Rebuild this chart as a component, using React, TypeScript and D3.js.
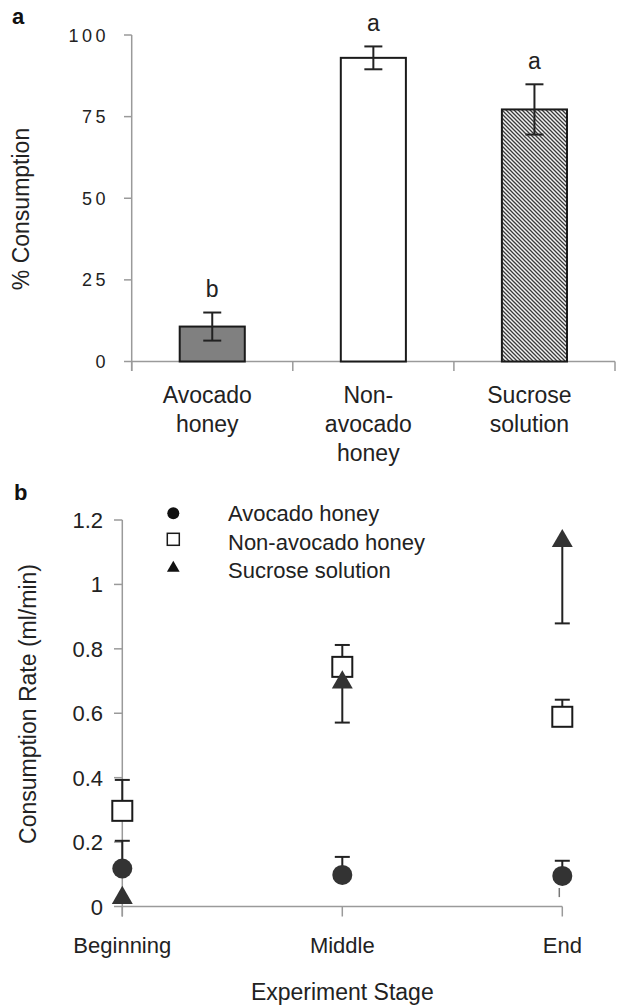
import React from "react";
import * as d3 from "d3";

// panel a: % consumption
const barCategories = [["Avocado", "honey"], ["Non-", "avocado", "honey"], ["Sucrose", "solution"]];
const barMeans = [10.7, 93.0, 77.2];
const barErrors = [4.3, 3.5, 7.7];
const barLetters = ["b", "a", "a"];
const barTicks = [0, 25, 50, 75, 100];

// panel b: consumption rate (ml/min)
const stages = ["Beginning", "Middle", "End"];
const avocadoRate = [0.118, 0.098, 0.095];
const avocadoErr = [0.086, 0.056, 0.047];
const nonAvocadoRate = [0.297, 0.744, 0.589];
const nonAvocadoErr = [0.096, 0.068, 0.053];
const sucroseRate = [0.03, 0.699, 1.138];
const sucroseErr = [0, 0.128, 0.259];
const rateTicks = [0, 0.2, 0.4, 0.6, 0.8, 1, 1.2];

const font = "'Liberation Sans', Arial, sans-serif";
const ink = "#222";
const axisGrey = "#9a9a9a";

const App = () => {
  // ---- scales panel a
  const yA = d3.scaleLinear().domain([0, 100]).range([361.5, 35]);
  const xA = d3.scaleBand<number>()
    .domain(d3.range(barCategories.length))
    .range([131.7, 615])
    .paddingInner(0.596)
    .paddingOuter(0.298);
  const stepA = xA.step();
  const boundaries = d3.range(barCategories.length + 1).map(i => 131.7 + stepA * i);
  const fills = ["#808080", "#ffffff", "url(#hatch)"];

  // ---- scales panel b
  const xB = d3.scalePoint<string>().domain(stages).range([122.3, 562.3]);
  const yB = d3.scaleLinear().domain([0, 1.2]).range([906.5, 520]);
  const tri = d3.symbol().type(d3.symbolTriangle).size(190)();
  const fmt = (v: number) => (v === 0 || v === 1 ? String(v) : d3.format(".1f")(v));

  const errBar = (x: number, y1: number, y2: number, cap: number, key: string) => (
    <g key={key} stroke={ink} strokeWidth={2}>
      <line x1={x} x2={x} y1={y1} y2={y2} />
      <line x1={x - cap / 2} x2={x + cap / 2} y1={y2} y2={y2} />
    </g>
  );

  return (
    <svg width={617} height={1006} style={{ position: "absolute", left: 0, top: 0, background: "#fff" }}
      fontFamily={font}>
      <defs>
        <pattern id="hatch" patternUnits="userSpaceOnUse" width={4} height={4}>
          <rect width={4} height={4} fill="#f2f2f2" />
          <path d="M-1,-1 L5,5 M-1,3 L1,5 M3,-1 L5,1" stroke="#3a3a3a" strokeWidth={1.3} />
        </pattern>
      </defs>

      {/* ================= panel a ================= */}
      <text x={12} y={24} fontSize={22} fontWeight="bold" fill="#111">a</text>

      {/* y axis */}
      <line x1={131.7} x2={131.7} y1={yA(100)} y2={371} stroke={axisGrey} strokeWidth={1.5} />
      {barTicks.map(t => (
        <g key={t}>
          <line x1={124} x2={131.7} y1={yA(t)} y2={yA(t)} stroke={axisGrey} strokeWidth={1.5} />
          <text x={109} y={yA(t) + 6.5} textAnchor="end" fontSize={18} letterSpacing={3.5} fill={ink}>{t}</text>
        </g>
      ))}
      <text transform={`translate(29,209) rotate(-90)`} textAnchor="middle" fontSize={23} fill={ink}>% Consumption</text>

      {/* x axis */}
      <line x1={131.7} x2={615} y1={yA(0)} y2={yA(0)} stroke={axisGrey} strokeWidth={1.5} />
      {boundaries.map((b, i) => (
        <line key={i} x1={b} x2={b} y1={yA(0)} y2={371} stroke={axisGrey} strokeWidth={1.5} />
      ))}

      {/* bars */}
      {barMeans.map((m, i) => (
        <rect key={i} x={xA(i)} y={yA(m)} width={xA.bandwidth()} height={yA(0) - yA(m)}
          fill={fills[i]} stroke="#1a1a1a" strokeWidth={2} />
      ))}
      {barMeans.map((m, i) => {
        const cx = (xA(i) as number) + xA.bandwidth() / 2;
        return (
          <g key={i} stroke={ink} strokeWidth={2}>
            <line x1={cx} x2={cx} y1={yA(m - barErrors[i])} y2={yA(m + barErrors[i])} />
            <line x1={cx - 9} x2={cx + 9} y1={yA(m - barErrors[i])} y2={yA(m - barErrors[i])} />
            <line x1={cx - 9} x2={cx + 9} y1={yA(m + barErrors[i])} y2={yA(m + barErrors[i])} />
          </g>
        );
      })}
      {barMeans.map((m, i) => {
        const cx = (xA(i) as number) + xA.bandwidth() / 2;
        return (
          <text key={i} x={cx} y={yA(m + barErrors[i]) - 15.5} textAnchor="middle" fontSize={23} fill={ink}>
            {barLetters[i]}
          </text>
        );
      })}
      {barCategories.map((lines, i) => {
        const cx = (xA(i) as number) + xA.bandwidth() / 2 - 5;
        return (
          <text key={i} textAnchor="middle" fontSize={23} fill={ink}>
            {lines.map((l, j) => (
              <tspan key={j} x={cx} y={403 + j * 29}>{l}</tspan>
            ))}
          </text>
        );
      })}

      {/* ================= panel b ================= */}
      <text x={14} y={500} fontSize={22} fontWeight="bold" fill="#111">b</text>

      {/* y axis */}
      <line x1={122.3} x2={122.3} y1={yB(1.2)} y2={916.5} stroke={axisGrey} strokeWidth={1.5} />
      {rateTicks.map(t => (
        <g key={t}>
          <line x1={114} x2={122.3} y1={yB(t)} y2={yB(t)} stroke={axisGrey} strokeWidth={1.5} />
          <text x={103} y={yB(t) + 8} textAnchor="end" fontSize={22} fill={ink}>{fmt(t)}</text>
        </g>
      ))}
      <text transform={`translate(36,704) rotate(-90)`} textAnchor="middle" fontSize={23} fill={ink}>
        Consumption Rate (ml/min)
      </text>

      {/* x axis */}
      <line x1={xB("Beginning")} x2={xB("End")} y1={yB(0)} y2={yB(0)} stroke={axisGrey} strokeWidth={1.5} />
      {stages.map(s => (
        <g key={s}>
          <line x1={xB(s)} x2={xB(s)} y1={yB(0)} y2={916.5} stroke={axisGrey} strokeWidth={1.5} />
          <text x={xB(s)} y={953} textAnchor="middle" fontSize={22} fill={ink}>{s}</text>
        </g>
      ))}
      <text x={342.3} y={1000} textAnchor="middle" fontSize={23} fill={ink}>Experiment Stage</text>

      {/* error bars */}
      {stages.map((s, i) => errBar(xB(s) as number, yB(avocadoRate[i]), yB(avocadoRate[i] + avocadoErr[i]), 15, "av" + i))}
      {stages.map((s, i) => errBar(xB(s) as number, yB(nonAvocadoRate[i]), yB(nonAvocadoRate[i] + nonAvocadoErr[i]), 15, "na" + i))}
      {stages.map((s, i) => sucroseErr[i] > 0
        ? errBar(xB(s) as number, yB(sucroseRate[i]), yB(sucroseRate[i] - sucroseErr[i]), 15, "su" + i)
        : null)}
      <line x1={(xB("End") as number) - 3} x2={(xB("End") as number) - 3}
        y1={yB(avocadoRate[2] - avocadoErr[2] * 0.8)} y2={yB(avocadoRate[2] - avocadoErr[2] * 1.4)}
        stroke="#777" strokeWidth={1.5} />

      {/* markers */}
      {stages.map((s, i) => (
        <rect key={"sq" + i} x={(xB(s) as number) - 10} y={yB(nonAvocadoRate[i]) - 10} width={20} height={20}
          fill="#fff" stroke="#1a1a1a" strokeWidth={2} />
      ))}
      {stages.map((s, i) => (
        <circle key={"c" + i} cx={xB(s)} cy={yB(avocadoRate[i])} r={10} fill="#333" />
      ))}
      {stages.map((s, i) => (
        <path key={"t" + i} d={tri as string} transform={`translate(${xB(s)},${yB(sucroseRate[i]) + 1})`} fill="#333" />
      ))}

      {/* legend */}
      <circle cx={173.3} cy={513.3} r={6} fill="#111" />
      <rect x={167.3} y={533.3} width={12} height={12} fill="#fff" stroke="#1a1a1a" strokeWidth={1.5} />
      <path d={d3.symbol().type(d3.symbolTriangle).size(70)() as string} transform="translate(173.3,568)" fill="#111" />
      <text x={228} y={521} fontSize={22} fill={ink}>Avocado honey</text>
      <text x={228} y={550} fontSize={22} fill={ink}>Non-avocado honey</text>
      <text x={228} y={578} fontSize={22} fill={ink}>Sucrose solution</text>
    </svg>
  );
};

export default App;
